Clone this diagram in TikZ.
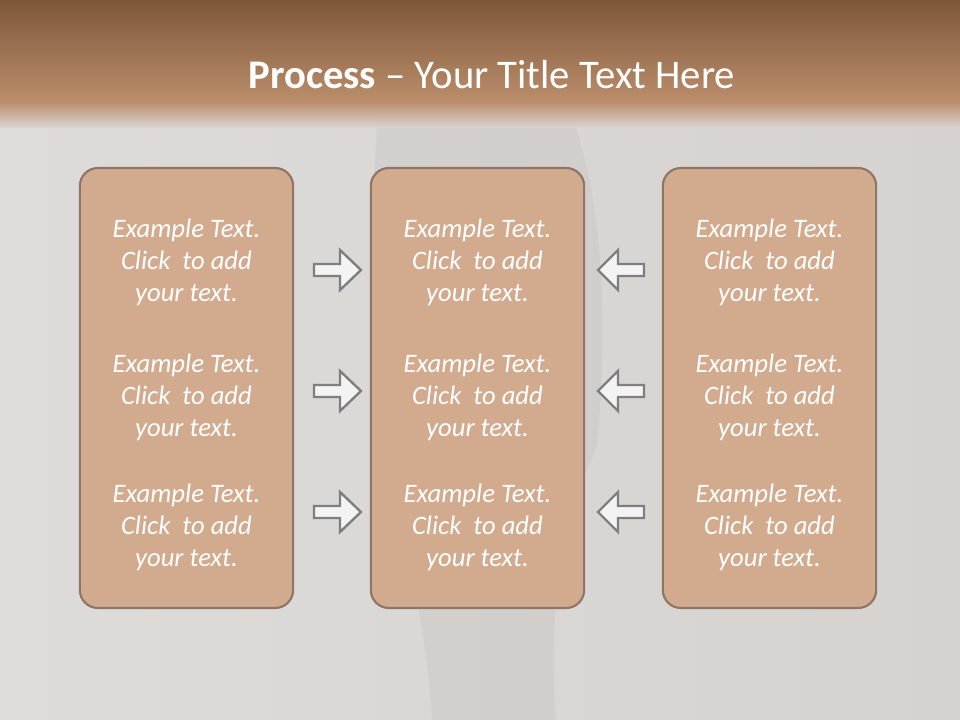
\documentclass[tikz,border=0pt]{standalone}
\usepackage{fontspec}
\setmainfont{Carlito}
\definecolor{bgGray}{HTML}{D9D6D4}
\definecolor{bgLight}{HTML}{DEDCDA}
\definecolor{bgDark}{HTML}{D5D2D0}
\definecolor{headTop}{HTML}{7E573A}
\definecolor{headLow}{HTML}{BC8F6C}
\definecolor{panelFill}{HTML}{D2AA8D}
\definecolor{panelEdge}{HTML}{8E7566}
\definecolor{arrowFill}{HTML}{F3F3F3}
\definecolor{arrowEdge}{HTML}{7F7F7F}
\tikzset{
  panel/.style={draw=panelEdge, fill=panelFill, line width=1.6pt,
    rounded corners=13.5pt, minimum width=160pt, minimum height=330pt},
  paneltext/.style={text=white, align=center,
    font=\fontsize{20}{24}\selectfont\itshape},
  blockarrow/.style={draw=arrowEdge, fill=arrowFill, line width=1.8pt,
    line join=miter},
}
\begin{document}
\begin{tikzpicture}[x=0.75pt, y=-0.75pt]
        % ---- page and background ----
        \useasboundingbox (0,0) rectangle (960,720);
        \shade[left color=bgLight, right color=bgDark] (0,0) rectangle (960,720);
        % ---- faint figure behind the panels ----
        \fill[black, opacity=0.035]
            (378,112) .. controls (372,200) and (372,300) .. (380,420)
            .. controls (395,520) and (425,600) .. (432,720)
            -- (556,720) .. controls (548,620) and (560,520) .. (596,450)
            .. controls (608,350) and (606,200) .. (570,112) -- cycle;
        % ---- header band ----
        \shade[top color=headTop, bottom color=headLow] (0,0) rectangle (960,104);
        \shade[top color=headLow, bottom color=bgGray, opacity=0.95]
            (0,103.5) rectangle (960,128);
        \node[text=white, font=\fontsize{30.5}{34}\selectfont] (title) at (492,75)
            {\textbf{Process} -- Your Title Text Here};
        % ---- three panels ----
        \node[panel] (left)   at (186.5,388) {};
        \node[panel] (middle) at (477.5,388) {};
        \node[panel] (right)  at (769.5,388) {};
        % ---- panel texts ----
        \foreach \p/\px in {left/186.5, middle/477.5, right/769.5} {
            \foreach \k/\ty in {1/262, 2/397, 3/527} {
                \node[paneltext] (\p-t\k) at (\px,\ty)
                    {Example Text.\\Click\ \ to add\\your text.};
            }
        }
        % ---- arrows into the middle panel ----
        \foreach \ry in {270,391,512} {
            \draw[blockarrow] (314,\ry-6) -- (340,\ry-6) -- (340,\ry-20)
                -- (361,\ry) -- (340,\ry+20) -- (340,\ry+6) -- (314,\ry+6) -- cycle;
            \draw[blockarrow] (644,\ry-6) -- (618,\ry-6) -- (618,\ry-20)
                -- (598,\ry) -- (618,\ry+20) -- (618,\ry+6) -- (644,\ry+6) -- cycle;
        }
\end{tikzpicture}
\end{document}
